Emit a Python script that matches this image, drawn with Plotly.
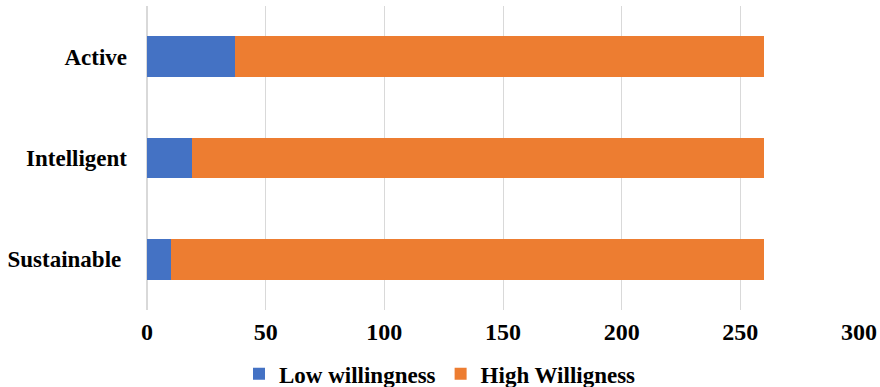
import plotly.graph_objects as go

categories = ["Active", "Intelligent", "Sustainable "]
low_willingness = [37, 19, 10]
high_willingness = [223, 241, 250]
x_ticks = [0, 50, 100, 150, 200, 250, 300]

SERIF = "Liberation Serif"

fig = go.Figure()
fig.add_trace(go.Bar(
    y=categories, x=low_willingness, orientation="h",
    name="Low willingness", marker=dict(color="#4472C4", line=dict(width=0)),
))
fig.add_trace(go.Bar(
    y=categories, x=high_willingness, orientation="h",
    name="High Willigness", marker=dict(color="#ED7D31", line=dict(width=0)),
))

fig.update_layout(
    width=880, height=387,
    margin=dict(l=147, r=21, t=6, b=77, autoexpand=False),
    barmode="stack", bargap=0.6,
    plot_bgcolor="#FFFFFF", paper_bgcolor="#FFFFFF",
    font=dict(family=SERIF, size=22, color="#000000"),
    legend=dict(
        orientation="h", xref="container", yref="container",
        x=0.5, xanchor="center", y=0.034, yanchor="middle",
        font=dict(family=SERIF, size=23, color="#000000", weight="bold"),
        traceorder="normal", itemwidth=30,
    ),
    xaxis=dict(
        range=[0, 300], tickvals=x_ticks, showgrid=True,
        gridcolor="#D9D9D9", gridwidth=1, zeroline=True,
        zerolinecolor="#D9D9D9", zerolinewidth=2, showline=False,
        tickangle=0, automargin=False,
        tickfont=dict(family=SERIF, size=24, color="#000000", weight="bold"),
        ticklabelstandoff=5,
    ),
    yaxis=dict(
        autorange="reversed", showgrid=False, showline=False, zeroline=False,
        automargin=False,
        tickfont=dict(family=SERIF, size=23, color="#000000", weight="bold"),
        ticklabelstandoff=19,
    ),
)

fig.write_html("out.html")
